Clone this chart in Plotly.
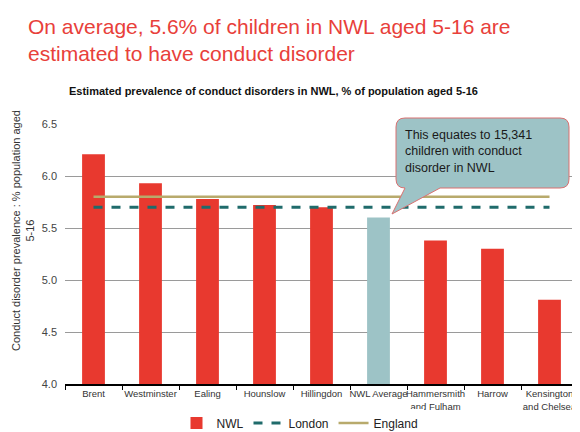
import plotly.graph_objects as go

categories = ["Brent", "Westminster", "Ealing", "Hounslow", "Hillingdon",
              "NWL Average", "Hammersmith<br>and Fulham", "Harrow", "Kensington<br>and Chelsea"]
nwl_values = [6.21, 5.93, 5.78, 5.72, 5.70, 5.60, 5.38, 5.30, 4.81]
london_value = 5.70
england_value = 5.80
y_ticks = [4.0, 4.5, 5.0, 5.5, 6.0, 6.5]

RED = "#e8392f"
TEAL = "#9dc3c6"
bar_colors = [TEAL if c == "NWL Average" else RED for c in categories]

# page is offset by the 8px default body margin; coordinates below are page pixels
OFF = 8
W, H = 580 - OFF, 432 - OFF
L, R, T, B = 65 - OFF, 2, 124 - OFF, 48
pw, ph = W - L - R, H - T - B

def px(x):
    return (x - OFF - L) / pw

def py(y):
    return (H - B - (y - OFF)) / ph

fig = go.Figure()
fig.add_trace(go.Bar(x=categories, y=nwl_values, name="NWL",
                     marker=dict(color=bar_colors, line=dict(width=0))))
fig.add_trace(go.Scatter(x=categories, y=[london_value] * len(categories), name="London",
                         mode="lines", line=dict(color="#1f6b6b", width=3, dash="dash")))
fig.add_trace(go.Scatter(x=categories, y=[england_value] * len(categories), name="England",
                         mode="lines", line=dict(color="#b8aa6c", width=2.5)))

# callout shape (rounded box with wedge)
x0, x1 = px(396), px(569)
yt, yb = py(118), py(188)
rx, ry = 9 / pw, 9 / ph
bx0, bx1 = px(405), px(440)
tx, ty = px(392), py(214)
path = (f"M {x0+rx},{yt} L {x1-rx},{yt} Q {x1},{yt} {x1},{yt-ry} "
        f"L {x1},{yb+ry} Q {x1},{yb} {x1-rx},{yb} "
        f"L {bx1},{yb} L {tx},{ty} L {bx0},{yb} "
        f"L {x0+rx},{yb} Q {x0},{yb} {x0},{yb+ry} "
        f"L {x0},{yt-ry} Q {x0},{yt} {x0+rx},{yt} Z")
fig.add_shape(type="path", path=path, xref="paper", yref="paper",
              fillcolor=TEAL, line=dict(color="#d97070", width=1), layer="above")

fig.add_annotation(xref="paper", yref="paper", x=px(403), y=py(126),
                   xanchor="left", yanchor="top", align="left", showarrow=False,
                   text="This equates to 15,341<br>children with conduct<br>disorder in NWL",
                   font=dict(family="Liberation Sans, Arial", size=12.5, color="#1a1a1a"))

# main title
fig.add_annotation(xref="paper", yref="paper", x=px(26), y=py(13),
                   xanchor="left", yanchor="top", align="left", showarrow=False,
                   text="On average, 5.6% of children in NWL aged 5-16 are<br>estimated to have conduct disorder",
                   font=dict(family="Liberation Sans, Arial", size=21, color="#e8403a"))
# subtitle
fig.add_annotation(xref="paper", yref="paper", x=px(273), y=py(91),
                   xanchor="center", yanchor="middle", showarrow=False,
                   text="<b>Estimated prevalence of conduct disorders in NWL, % of population aged 5-16</b>",
                   font=dict(family="Liberation Sans, Arial", size=11, color="#111"))
# y axis title
fig.add_annotation(xref="paper", yref="paper", x=px(23), y=py(231),
                   xanchor="center", yanchor="middle", showarrow=False, textangle=-90,
                   text="Conduct disorder prevalence : % population aged<br>5-16",
                   font=dict(family="Liberation Sans, Arial", size=11, color="#333"))

fig.update_layout(
    width=W, height=H,
    margin=dict(l=L, r=R, t=T, b=B, autoexpand=False),
    paper_bgcolor="white", plot_bgcolor="white",
    bargap=0.6,
    showlegend=True,
    legend=dict(orientation="h", x=px(300), xanchor="center", y=py(423), yanchor="middle",
                font=dict(family="Liberation Sans, Arial", size=12, color="#222"),
                itemwidth=30, tracegroupgap=0),
    font=dict(family="Liberation Sans, Arial"),
)
fig.update_xaxes(type="category", showline=True, linecolor="black", linewidth=2,
                 ticks="outside", tickson="boundaries", ticklen=4, tickcolor="black",
                 tickangle=0, automargin=False,
                 tickfont=dict(size=9.5, color="#333"), showgrid=False)
fig.update_yaxes(range=[4.0, 6.5], tickvals=y_ticks, ticktext=[f"{v:.1f}" for v in y_ticks],
                 showgrid=True, gridcolor="#9a9a9a", gridwidth=1, zeroline=False,
                 automargin=False, ticklabelstandoff=7,
                 showline=False, tickfont=dict(size=11, color="#444"), ticks="")

fig.write_html("out.html")
